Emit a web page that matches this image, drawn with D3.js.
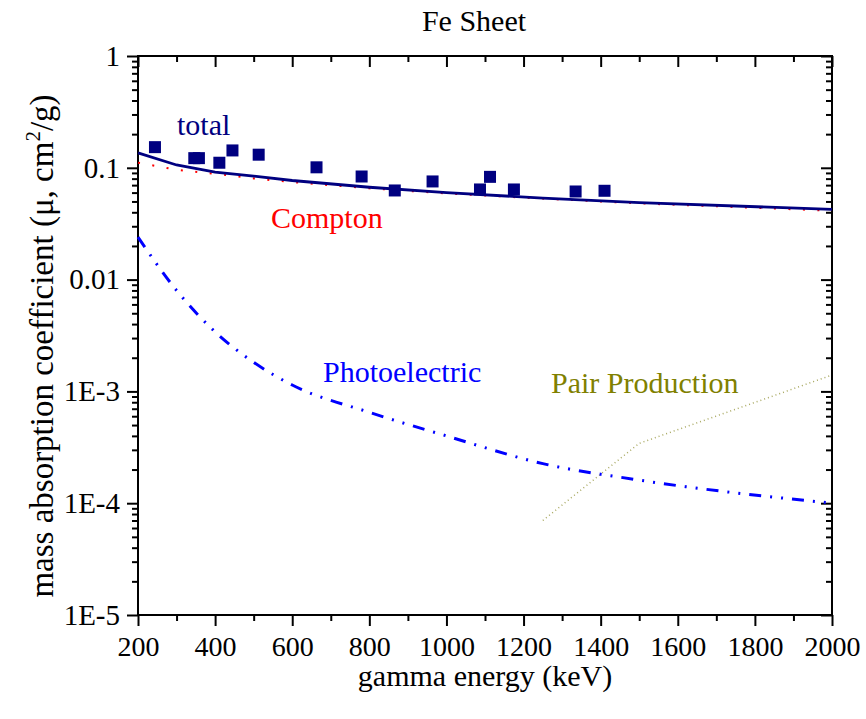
<!DOCTYPE html>
<html>
<head>
<meta charset="utf-8">
<script src="https://cdn.jsdelivr.net/npm/d3@7"></script>
<style>
	body { margin: 0; background: #fff; }
</style>
</head>
<body>
<div id="chart"></div>
<script>
(function (){
	"use strict";

var serif = "'Liberation Serif', Tinos, 'Times New Roman', 'DejaVu Serif', serif";

// energies on the calculated grid (keV)
var gridE = [200, 300, 400, 500, 600, 800, 1000, 1250, 1500, 2000];
var totalMu = [0.136, 0.106, 0.0915, 0.0843, 0.0770, 0.0670, 0.0599, 0.0536, 0.0488, 0.0425];
var comptonMu = [0.111, 0.096, 0.0884, 0.0803, 0.0745, 0.0655, 0.0590, 0.0530, 0.0481, 0.0413];
var photoMu = [0.0240, 0.0080, 0.00341, 0.00182, 0.00114, 0.00065, 0.00040, 0.000226, 0.000161, 0.000100];
var pairE = [1250, 1500, 2000];
var pairMu = [0.000070, 0.000343, 0.00140];

// measured points
var measE = [244, 346, 358, 411, 445, 513, 663, 780, 866, 964, 1087, 1113, 1175, 1335, 1410];
var measMu = [0.153, 0.122, 0.122, 0.111, 0.143, 0.131, 0.101, 0.0836, 0.0627, 0.0755, 0.064, 0.083, 0.064, 0.0614, 0.0623];

var xTicks = [200, 400, 600, 800, 1000, 1200, 1400, 1600, 1800, 2000];
var yTicks = [1, 0.1, 0.01, 0.001, 0.0001, 0.00001];
var yTickLabels = ["1", "0.1", "0.01", "1E-3", "1E-4", "1E-5"];

var width = 866,
	height = 719,
	left = 138, right = 832,
	top = 56, bottom = 615;

var x = d3.scaleLinear().domain([200, 2000]).range([left, right]);
var y = d3.scaleLog().domain([0.00001, 1]).range([bottom, top]);

var svg = d3.select("#chart").append("svg")
	.attr("width", width)
	.attr("height", height)
	.style("font-family", serif);

// minor ticks
var xMinor = d3.range(300, 2000, 200);
var yMinor = [];
for(var p=-5; p<0; p++){
	for(var m=2; m<10; m++){
		yMinor.push(m*Math.pow(10, p));
	}
};

function styleAxis(g, w, fs){
	g.attr("font-family", null);
	g.select(".domain").remove();
	g.selectAll("line").attr("stroke", "#000").attr("stroke-width", w);
	g.selectAll("text").attr("fill", "#000")
		.style("font-family", serif)
		.style("font-size", (fs || 28) + "px");
}

// bottom (outward) and top (inward)
svg.append("g").attr("transform", "translate(0," + bottom + ")")
	.call(d3.axisBottom(x).tickValues(xTicks).tickSizeInner(11).tickSizeOuter(0).tickPadding(10).tickFormat(d3.format("d")))
	.call(styleAxis, 2, 28);
svg.append("g").attr("transform", "translate(0," + bottom + ")")
	.call(d3.axisBottom(x).tickValues(xMinor).tickSizeInner(6).tickSizeOuter(0).tickFormat(""))
	.call(styleAxis, 2);
svg.append("g").attr("transform", "translate(0," + top + ")")
	.call(d3.axisTop(x).tickValues(xTicks).tickSizeInner(-11).tickSizeOuter(0).tickFormat(""))
	.call(styleAxis, 2);
svg.append("g").attr("transform", "translate(0," + top + ")")
	.call(d3.axisTop(x).tickValues(xMinor).tickSizeInner(-6).tickSizeOuter(0).tickFormat(""))
	.call(styleAxis, 2);

// left (outward) and right (inward)
svg.append("g").attr("transform", "translate(" + left + ",0)")
	.call(d3.axisLeft(y).tickValues(yTicks).tickSizeInner(11).tickSizeOuter(0).tickPadding(7)
		.tickFormat(function(d, i){ return yTickLabels[i]; }))
	.call(styleAxis, 2, 29);
svg.append("g").attr("transform", "translate(" + left + ",0)")
	.call(d3.axisLeft(y).tickValues(yMinor).tickSizeInner(6).tickSizeOuter(0).tickFormat(""))
	.call(styleAxis, 2);
svg.append("g").attr("transform", "translate(" + right + ",0)")
	.call(d3.axisRight(y).tickValues(yTicks).tickSizeInner(-11).tickSizeOuter(0).tickFormat(""))
	.call(styleAxis, 2);
svg.append("g").attr("transform", "translate(" + right + ",0)")
	.call(d3.axisRight(y).tickValues(yMinor).tickSizeInner(-6).tickSizeOuter(0).tickFormat(""))
	.call(styleAxis, 2);

// frame
svg.append("rect")
	.attr("x", left).attr("y", top)
	.attr("width", right - left).attr("height", bottom - top)
	.attr("fill", "none").attr("stroke", "#000").attr("stroke-width", 2);

var plot = svg.append("g");

function series(es, vs){
	return es.map(function(e, i){ return [e, vs[i]]; });
}
var line = d3.line()
	.x(function(d){ return x(d[0]); })
	.y(function(d){ return y(d[1]); });
var smooth = d3.line()
	.x(function(d){ return x(d[0]); })
	.y(function(d){ return y(d[1]); })
	.curve(d3.curveMonotoneX);

// pair production
plot.append("path")
	.attr("d", line(series(pairE, pairMu)))
	.attr("fill", "none").attr("stroke", "#a8a860")
	.attr("stroke-width", 1.5).attr("stroke-dasharray", "1,3");

// photoelectric
plot.append("path")
	.attr("d", smooth(series(gridE, photoMu)))
	.attr("fill", "none").attr("stroke", "#0000ff")
	.attr("stroke-width", 3).attr("stroke-dasharray", "12,9,2,9,2,9");

// compton
plot.append("path")
	.attr("d", line(series(gridE, comptonMu)))
	.attr("fill", "none").attr("stroke", "#ff0000")
	.attr("stroke-width", 2).attr("stroke-dasharray", "2,12.5");

// total
plot.append("path")
	.attr("d", line(series(gridE, totalMu)))
	.attr("fill", "none").attr("stroke", "#000080")
	.attr("stroke-width", 2.8);

// measured squares
var sq = 12;
plot.selectAll("rect.meas").data(series(measE, measMu))
	.enter().append("rect")
		.attr("class", "meas")
		.attr("x", function(d){ return x(d[0]) - sq/2; })
		.attr("y", function(d){ return y(d[1]) - sq/2; })
		.attr("width", sq).attr("height", sq)
		.attr("fill", "#000080");

// labels
function label(t, px, py, col, anchor){
	svg.append("text")
		.attr("x", px).attr("y", py)
		.attr("text-anchor", anchor || "start")
		.attr("fill", col)
		.style("font-family", serif)
		.style("font-size", "30px")
		.text(t);
}
label("Fe Sheet", 474, 31, "#000", "middle");
label("total", 177, 135, "#000080");
label("Compton", 271, 228, "#ff0000");
label("Photoelectric", 323, 382, "#0000ff");
label("Pair Production", 551, 393, "#808000");
label("gamma energy (keV)", 485, 686, "#000", "middle");

var yl = svg.append("text")
	.attr("transform", "translate(53,346) rotate(-90)")
	.attr("text-anchor", "middle")
	.attr("fill", "#000")
	.style("font-family", serif)
	.style("font-size", "33px");
yl.append("tspan").text("mass absorption coefficient (\u03bc, cm");
yl.append("tspan").attr("dy", -13).style("font-size", "21px").text("2");
yl.append("tspan").attr("dy", 13).text("/g)");

})();
</script>
</body>
</html>
